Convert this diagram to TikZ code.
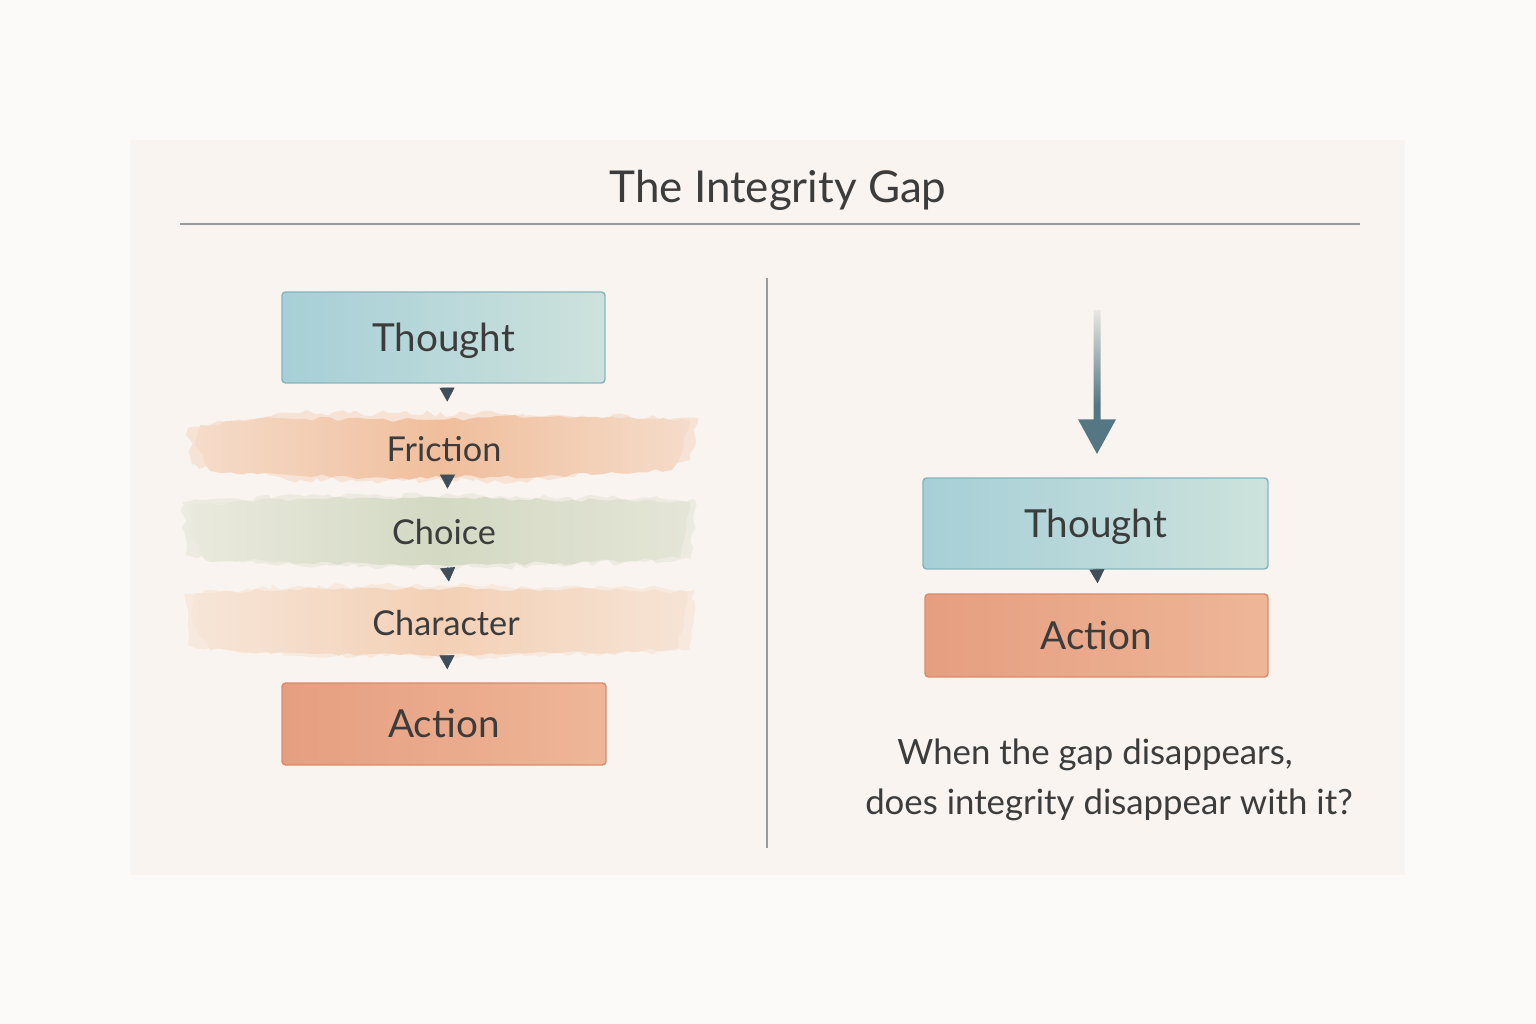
\documentclass[tikz,border=0pt]{standalone}
\usepackage{fontspec}
\setmainfont{Lato}
\usetikzlibrary{arrows.meta,decorations.pathmorphing,fadings}
\definecolor{pagebg}{HTML}{FCFAF9}
\definecolor{panelbg}{HTML}{F9F4EF}
\definecolor{ink}{HTML}{3C3C3C}
\definecolor{tealL}{HTML}{A6CFD7}
\definecolor{tealR}{HTML}{CDE2DC}
\definecolor{tealB}{HTML}{86B5BD}
\definecolor{rustL}{HTML}{E69E80}
\definecolor{rustR}{HTML}{EEB697}
\definecolor{rustB}{HTML}{D98B6C}
\definecolor{peach}{HTML}{F0BE9C}
\definecolor{sage}{HTML}{D3D9C3}
\definecolor{peachlt}{HTML}{F3D0B5}
\definecolor{slate}{HTML}{3F4E57}
\definecolor{arrowc}{HTML}{557783}
\definecolor{rulec}{HTML}{9A9A9A}
\begin{document}
\begin{tikzpicture}[x=0.02cm,y=-0.02cm,
  boxbase/.style={rectangle, rounded corners=2pt, text=ink, line width=0.8pt,
    font=\fontsize{22}{26}\selectfont, inner sep=0pt, text height=15.8pt, text depth=0pt},
  tealbox/.style={boxbase, left color=tealL, right color=tealR, draw=tealB},
  rustbox/.style={boxbase, left color=rustL, right color=rustR, draw=rustB},
  brushlabel/.style={text=ink, font=\fontsize{19.5}{23}\selectfont, inner sep=0pt,
    minimum width=8cm, text height=14pt, text depth=0pt},
  brush/.style={decorate, decoration={random steps, segment length=5pt, amplitude=1.2pt}},
  fuzz/.style={decorate, decoration={random steps, segment length=4pt, amplitude=1.8pt}, opacity=0.3},
  tiny/.style={draw=slate, fill=slate, line width=0.3pt, -{Triangle[length=0.28cm,width=0.3cm]}},
  bigarrow/.style={draw=arrowc, line width=0.14cm, -{Triangle[length=0.7cm,width=0.72cm]}},
  titlefont/.style={text=ink, font=\fontsize{25}{30}\selectfont},
  qfont/.style={text=ink, font=\fontsize{19.8}{24}\selectfont}
]
\pgfmathsetseed{7}
\useasboundingbox (0,0) rectangle (1536,1024);
\fill[pagebg] (0,0) rectangle (1536,1024);
\fill[panelbg] (130,140) rectangle (1405,875);

% title and rules
\node[titlefont] (title) at (778,190) {The Integrity Gap};
\draw[rulec, line width=0.6pt] (180,224) -- (1360,224);
\draw[rulec, line width=0.7pt] (767,278) -- (767,848);

% brush strokes: faint fuzzy halo, then main stroke
\fill[fuzz, peach] (188,428) -- (300,413) -- (500,414) -- (698,418) -- (690,460) -- (520,481) -- (300,480) -- (192,465) -- cycle;
\shade[brush, left color=peach!45!panelbg, right color=peach!45!panelbg, middle color=peach]
  (200,425) -- (260,418) -- (400,420) -- (560,416) -- (690,421) -- (683,450) -- (672,470)
  -- (560,476) -- (400,478) -- (300,476) -- (210,471) -- (195,445) -- cycle;

\fill[fuzz, sage] (182,502) -- (300,495) -- (500,496) -- (695,500) -- (692,560) -- (500,567) -- (300,566) -- (186,555) -- cycle;
\shade[brush, left color=sage!40!panelbg, right color=sage!55!panelbg, middle color=sage]
  (192,505) -- (280,499) -- (450,498) -- (600,500) -- (690,502) -- (686,530) -- (680,558)
  -- (560,563) -- (400,565) -- (290,562) -- (205,560) -- (188,530) -- cycle;

\fill[fuzz, peachlt] (184,594) -- (300,586) -- (500,586) -- (695,590) -- (690,650) -- (500,657) -- (300,656) -- (188,645) -- cycle;
\shade[brush, left color=peachlt!40!panelbg, right color=peachlt!45!panelbg, middle color=peachlt]
  (196,593) -- (290,589) -- (450,588) -- (600,590) -- (688,592) -- (684,620) -- (676,650)
  -- (560,653) -- (400,655) -- (290,653) -- (210,650) -- (192,620) -- cycle;

% left column
\node[tealbox, minimum width=6.46cm, minimum height=1.82cm] (t1) at (443.5,337.5) {Thought};
\node[brushlabel, minimum height=1.26cm] (fr) at (444,449) {Friction};
\node[brushlabel, minimum height=1.36cm] (ch) at (444,532) {Choice};
\node[brushlabel, minimum height=1.36cm] (cr) at (446,623) {Character};
\node[rustbox, minimum width=6.48cm, minimum height=1.64cm] (a1) at (444,724) {Action};

\draw[tiny, shorten <=0.1cm, shorten >=0.31cm] ([xshift=0.07cm]t1.south) -- ([xshift=0.07cm]fr.north);
\draw[tiny, shorten <=-0.07cm, shorten >=0.18cm] ([xshift=0.07cm]fr.south) -- ([xshift=0.07cm]ch.north);
\draw[tiny, shorten <=0.02cm, shorten >=0.14cm] ([xshift=0.07cm]ch.south) -- ([xshift=0.07cm]cr.north);
\draw[tiny, shorten <=-0.04cm, shorten >=0.26cm] ([xshift=0.02cm]cr.south) -- ([xshift=0.07cm]a1.north);

% right column
\node[tealbox, minimum width=6.9cm, minimum height=1.82cm] (t2) at (1095.5,523.5) {Thought};
\node[rustbox, minimum width=6.86cm, minimum height=1.66cm] (a2) at (1096.5,635.5) {Action};
\coordinate (top) at (1097,310);
\draw[bigarrow, shorten >=0.46cm] (top) -- ([xshift=0.03cm]t2.north);
\fill[panelbg, path fading=south] (1085,300) rectangle (1110,405);
\draw[tiny, shorten <=0.02cm, shorten >=0.2cm] ([xshift=0.03cm]t2.south) -- ([xshift=0.03cm]a2.north);

% question
\node[qfont] (q1) at (1095,755) {When the gap disappears,};
\node[qfont] (q2) at (1109,805) {does integrity disappear with it?};
\end{tikzpicture}
\end{document}
